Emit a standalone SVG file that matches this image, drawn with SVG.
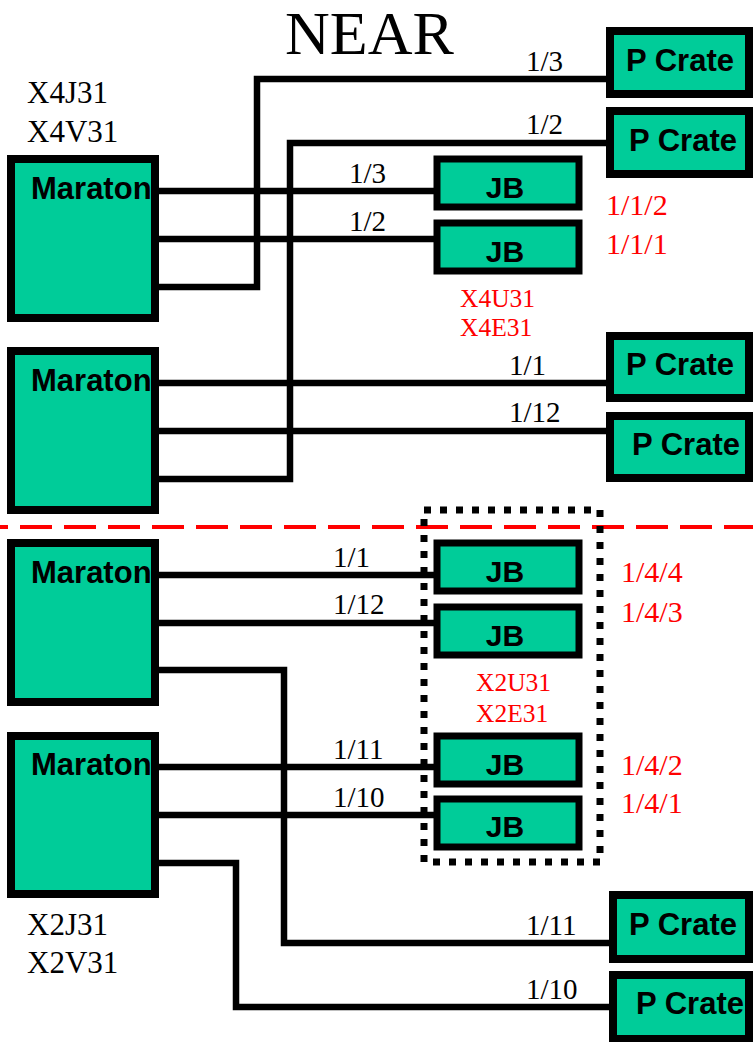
<svg xmlns="http://www.w3.org/2000/svg" width="753" height="1042" viewBox="0 0 753 1042">
<style>
.box{fill:#00CC99;stroke:#000;stroke-width:8}
.sbox{fill:#00CC99;stroke:#000;stroke-width:7}
.lbl{font-family:"Liberation Sans",Arial,sans-serif;font-weight:bold;fill:#000}
.mar{font-size:31px}
.pc{font-size:31px}
.jb{font-size:30px;text-anchor:middle}
.t{font-family:"Liberation Serif","Times New Roman",serif;fill:#000}
.num{font-size:29px}
.red{fill:#FF0000}
.w{fill:none;stroke:#000;stroke-width:6.5;stroke-linejoin:miter}
</style>
<rect width="753" height="1042" fill="#fff"/>
<text class="t" x="285" y="54" font-size="62">NEAR</text>
<line x1="0" y1="527" x2="753" y2="527" stroke="#FF0000" stroke-width="4" stroke-dasharray="32 12" stroke-dashoffset="24"/>
<rect x="424" y="510" width="176" height="352" fill="none" stroke="#000" stroke-width="7" stroke-dasharray="7 9"/>
<g id="connectors">
<line class="w" x1="159" y1="191" x2="437" y2="191"/>
<line class="w" x1="159" y1="239" x2="437" y2="239"/>
<polyline class="w" points="146,287 257,287 257,79 610,79"/>
<polyline class="w" points="139,479 290,479 290,143 610,143"/>
<line class="w" x1="159" y1="383" x2="610" y2="383"/>
<line class="w" x1="159" y1="431" x2="610" y2="431"/>
<line class="w" x1="159" y1="575" x2="437" y2="575"/>
<line class="w" x1="159" y1="623" x2="437" y2="623"/>
<polyline class="w" points="146,670 284,670 284,943 613,943"/>
<line class="w" x1="159" y1="767" x2="437" y2="767"/>
<line class="w" x1="159" y1="815" x2="437" y2="815"/>
<polyline class="w" points="159,863 236,863 236,1007 613,1007"/>
<text class="t num" x="526" y="71">1/3</text>
<text class="t num" x="526" y="134">1/2</text>
<text class="t num" x="349" y="183">1/3</text>
<text class="t num" x="349" y="231">1/2</text>
<text class="t num" x="509" y="375">1/1</text>
<text class="t num" x="509" y="422">1/12</text>
<text class="t num" x="333" y="567">1/1</text>
<text class="t num" x="333" y="614">1/12</text>
<text class="t num" x="333" y="759">1/11</text>
<text class="t num" x="333" y="807">1/10</text>
<text class="t num" x="526" y="935">1/11</text>
<text class="t num" x="526" y="999">1/10</text>
</g>
<g id="maraton1"><rect class="box" x="11" y="159" width="144" height="159"/><text class="lbl mar" x="31" y="199">Maraton</text></g>
<g id="maraton2"><rect class="box" x="11" y="351" width="144" height="159"/><text class="lbl mar" x="31" y="391">Maraton</text></g>
<g id="maraton3"><rect class="box" x="11" y="543" width="144" height="159"/><text class="lbl mar" x="31" y="583">Maraton</text></g>
<g id="maraton4"><rect class="box" x="11" y="736" width="144" height="158"/><text class="lbl mar" x="31" y="775">Maraton</text></g>
<g id="pcrate1"><rect class="box" x="610" y="31" width="139" height="63"/><text class="lbl pc" x="626" y="71">P Crate</text></g>
<g id="pcrate2"><rect class="box" x="610" y="111" width="139" height="63"/><text class="lbl pc" x="629" y="151">P Crate</text></g>
<g id="pcrate3"><rect class="box" x="610" y="336" width="139" height="62"/><text class="lbl pc" x="626" y="375">P Crate</text></g>
<g id="pcrate4"><rect class="box" x="610" y="416" width="139" height="62"/><text class="lbl pc" x="632" y="455">P Crate</text></g>
<g id="pcrate5"><rect class="box" x="613" y="895" width="136" height="64"/><text class="lbl pc" x="629" y="935">P Crate</text></g>
<g id="pcrate6"><rect class="box" x="613" y="975" width="136" height="64"/><text class="lbl pc" x="636" y="1014">P Crate</text></g>
<g id="jb1"><rect class="sbox" x="437" y="159" width="142" height="48"/><text class="lbl jb" x="505" y="198">JB</text></g>
<g id="jb2"><rect class="sbox" x="437" y="223" width="142" height="48"/><text class="lbl jb" x="505" y="262">JB</text></g>
<g id="jb3"><rect class="sbox" x="437" y="543" width="142" height="48"/><text class="lbl jb" x="505" y="582">JB</text></g>
<g id="jb4"><rect class="sbox" x="437" y="607" width="142" height="48"/><text class="lbl jb" x="505" y="646">JB</text></g>
<g id="jb5"><rect class="sbox" x="437" y="736" width="142" height="48"/><text class="lbl jb" x="505" y="775">JB</text></g>
<g id="jb6"><rect class="sbox" x="437" y="799" width="142" height="48"/><text class="lbl jb" x="505" y="837">JB</text></g>
<g id="labels">
<text class="t" x="27" y="103" font-size="31">X4J31</text>
<text class="t" x="27" y="142" font-size="31">X4V31</text>
<text class="t" x="27" y="935" font-size="31">X2J31</text>
<text class="t" x="27" y="973" font-size="31">X2V31</text>
<text class="t red" x="460" y="307" font-size="25.5">X4U31</text>
<text class="t red" x="460" y="336" font-size="25.5">X4E31</text>
<text class="t red" x="476" y="691" font-size="25.5">X2U31</text>
<text class="t red" x="476" y="722" font-size="25.5">X2E31</text>
<text class="t red" x="606" y="215" font-size="30">1/1/2</text>
<text class="t red" x="606" y="254" font-size="30">1/1/1</text>
<text class="t red" x="621" y="582" font-size="30">1/4/4</text>
<text class="t red" x="621" y="622" font-size="30">1/4/3</text>
<text class="t red" x="621" y="775" font-size="30">1/4/2</text>
<text class="t red" x="621" y="813" font-size="30">1/4/1</text>
</g>
</svg>
